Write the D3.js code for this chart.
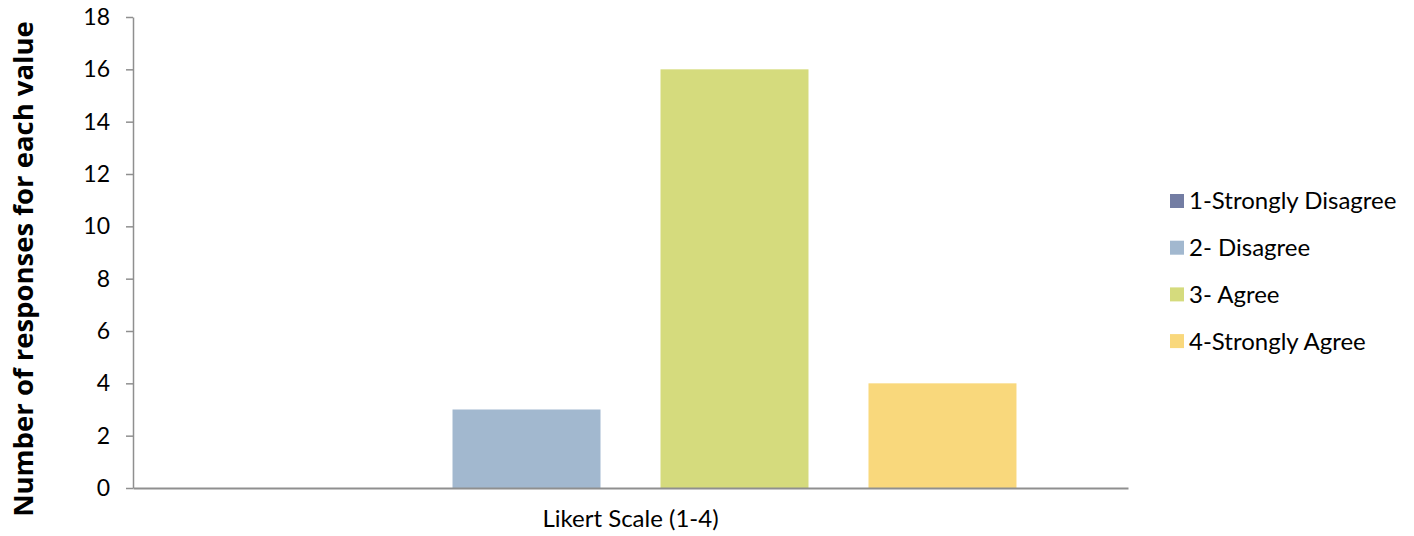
<!DOCTYPE html>
<html>
<head>
<meta charset="utf-8">
<script src="https://cdn.jsdelivr.net/npm/d3@7"></script>
<style>
  html, body { margin: 0; padding: 0; background: #fff; }
  svg { display: block; }
</style>
</head>
<body>
<svg id="chart" width="1414" height="536"></svg>
<script>
// Likert responses, one category, four series
const categories = ["Likert Scale (1-4)"];
const seriesNames = ["1-Strongly Disagree", "2- Disagree", "3- Agree", "4-Strongly Agree"];
const seriesValues = [0, 3, 16, 4];
const seriesColors = ["#737DA3", "#A2B8CF", "#D5DB7D", "#F9D87C"];
const yTicks = [0, 2, 4, 6, 8, 10, 12, 14, 16, 18];

const svg = d3.select("#chart");
const plot = { left: 133, right: 1128, top: 17, bottom: 488 };
const labelFont = "Lato, 'Open Sans', sans-serif";

const y = d3.scaleLinear().domain([0, 18]).range([plot.bottom, plot.top]);

const x0 = d3.scaleBand()
  .domain(categories)
  .range([plot.left, plot.right])
  .paddingOuter(0.098)
  .paddingInner(0);

const x1 = d3.scaleBand()
  .domain(seriesNames)
  .range([0, x0.bandwidth()])
  .paddingInner(60 / 208)
  .paddingOuter(30 / 208);

// bars
const rows = categories.map(c => ({ cat: c, vals: seriesNames.map((s, i) => ({ s, v: seriesValues[i], c: seriesColors[i] })) }));
const g = svg.append("g");
rows.forEach(r => {
  g.selectAll(null)
    .data(r.vals)
    .join("rect")
    .attr("x", d => x0(r.cat) + x1(d.s))
    .attr("width", x1.bandwidth())
    .attr("y", d => y(d.v))
    .attr("height", d => y(0) - y(d.v))
    .attr("fill", d => d.c);
});

// y axis
const yAxis = svg.append("g")
  .attr("transform", `translate(${plot.left},0)`)
  .call(d3.axisLeft(y).tickValues(yTicks).tickSize(7).tickSizeOuter(0).tickPadding(16));
yAxis.select(".domain").attr("stroke", "#8f8f8f").attr("stroke-width", 1.5);
yAxis.selectAll(".tick line").attr("stroke", "#8f8f8f").attr("stroke-width", 1.5);
yAxis.selectAll(".tick text")
  .attr("font-family", labelFont)
  .attr("font-size", 23)
  .attr("fill", "#000");

// x axis
const xAxis = svg.append("g")
  .attr("transform", `translate(0,${plot.bottom})`)
  .call(d3.axisBottom(x0).tickSize(0).tickSizeOuter(0).tickPadding(22));
xAxis.select(".domain").attr("stroke", "#8f8f8f").attr("stroke-width", 2);
xAxis.selectAll(".tick text")
  .attr("font-family", labelFont)
  .attr("font-size", 24)
  .attr("fill", "#000");

// y axis title
svg.append("text")
  .attr("transform", "translate(33,269) rotate(-90)")
  .attr("text-anchor", "middle")
  .attr("font-family", "'Open Sans', sans-serif")
  .attr("font-weight", "bold")
  .attr("font-size", 27.5)
  .attr("fill", "#000")
  .text("Number of responses for each value");

// legend
const legend = svg.append("g").attr("transform", "translate(1170,201)");
const item = legend.selectAll("g")
  .data(seriesNames)
  .join("g")
  .attr("transform", (d, i) => `translate(0,${i * 46.7})`);
item.append("rect")
  .attr("x", 0).attr("y", -7)
  .attr("width", 14).attr("height", 14)
  .attr("fill", (d, i) => seriesColors[i]);
item.append("text")
  .attr("x", 19).attr("y", 0)
  .attr("dy", "0.35em")
  .attr("font-family", labelFont)
  .attr("font-size", 24)
  .attr("fill", "#000")
  .text(d => d);
</script>
</body>
</html>
